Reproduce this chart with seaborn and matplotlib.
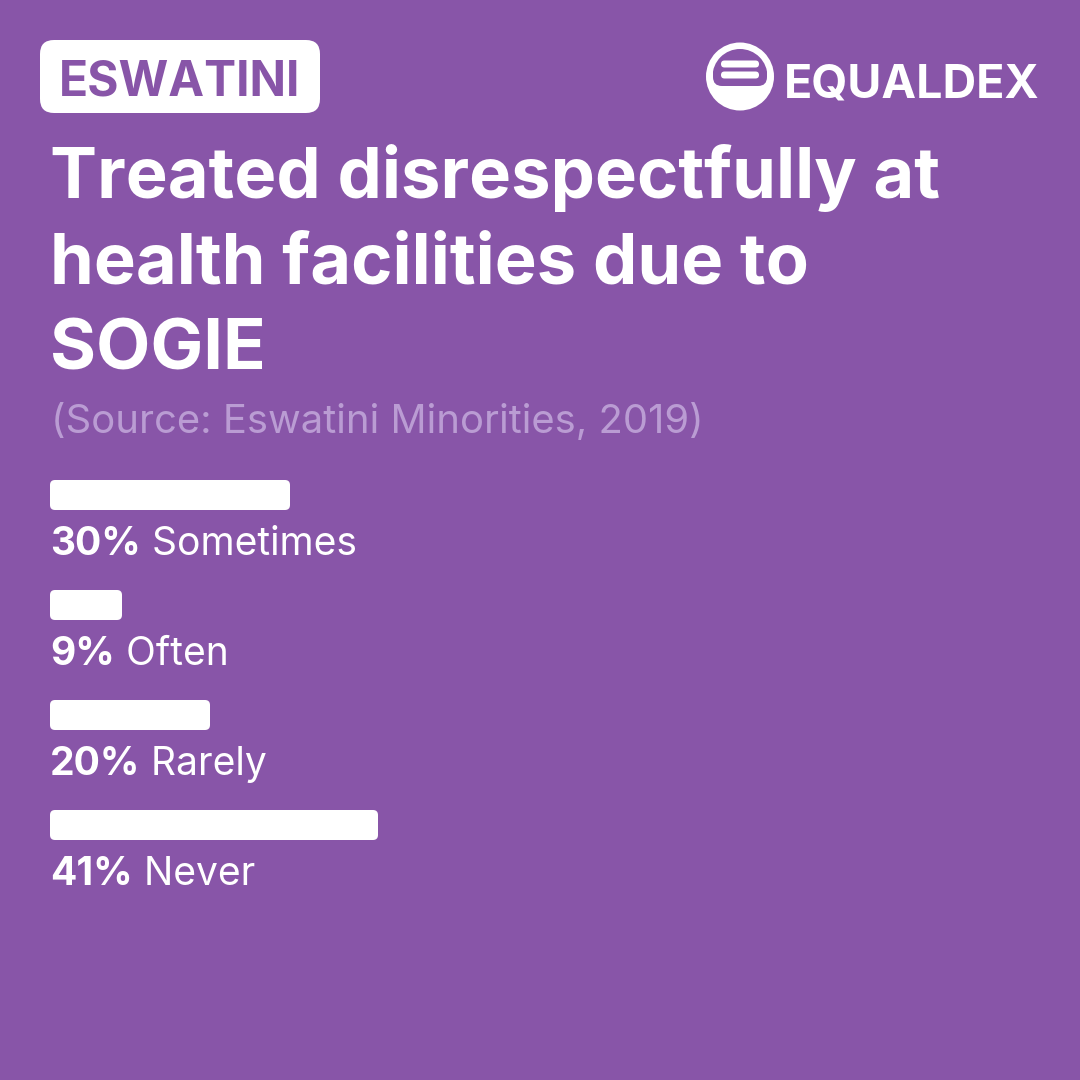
import matplotlib
matplotlib.use("Agg")
import matplotlib.pyplot as plt
from matplotlib.patches import FancyBboxPatch, Circle
import seaborn as sns
import pandas as pd

# ---- data ----
categories = ["Sometimes", "Often", "Rarely", "Never"]
percentages = [30, 9, 20, 41]
country = "ESWATINI"
title_lines = ["Treated disrespectfully at", "health facilities due to", "SOGIE"]
source = "(Source: Eswatini Minorities, 2019)"
brand = "EQUALDEX"

BG = "#8855A8"
WHITE = "#FFFFFF"
SOFT = "#BA9CD3"
FONT = ["Inter", "DejaVu Sans"]

sns.set_theme(style="white")
plt.rcParams["font.family"] = FONT

W = H = 1080
fig = plt.figure(figsize=(10.8, 10.8), dpi=100, facecolor=BG)

# overlay in pixel coordinates for header elements
deco = fig.add_axes([0, 0, 1, 1])
deco.set_xlim(0, W)
deco.set_ylim(H, 0)
deco.axis("off")
deco.set_facecolor("none")

def pt(px):
    return px * 72 / 100

# country badge
badge = FancyBboxPatch((40, 40), 280, 73, boxstyle="round,pad=0,rounding_size=14",
                       fc=WHITE, ec="none")
deco.add_patch(badge)
deco.text(180, 95, country, ha="center", va="baseline", color=BG,
          fontsize=pt(48), fontweight="bold")

# brand logo
cx, cy = 740, 76.5
deco.add_patch(Circle((cx, cy), 34, fc=WHITE, ec="none"))
inner = FancyBboxPatch((713, 30), 54, 56, boxstyle="round,pad=0,rounding_size=9",
                       fc=BG, ec="none")
deco.add_patch(inner)
clip = Circle((cx, cy), 27.5, transform=deco.transData)
inner.set_clip_path(clip)
for yc in (64, 75):
    deco.add_patch(FancyBboxPatch((721, yc - 3.5), 38, 7,
                                  boxstyle="round,pad=0,rounding_size=3.5",
                                  fc=WHITE, ec="none"))
deco.text(784, 98, brand, ha="left", va="baseline", color=WHITE,
          fontsize=pt(46.5), fontweight="bold")

# title
for line, base in zip(title_lines, [198, 284, 370]):
    deco.text(50, base, line, ha="left", va="baseline", color=WHITE,
              fontsize=pt(70.5), fontweight="bold")

deco.text(51, 433, source, ha="left", va="baseline", color=SOFT, fontsize=pt(40))

# ---- bar chart ----
ax = fig.add_axes([50 / W, (H - 880) / H, 800 / W, 440 / H])
ax.set_facecolor("none")
df = pd.DataFrame({"category": categories, "pct": percentages})
sns.barplot(data=df, x="pct", y="category", orient="h", color=WHITE,
            width=30 / 110, ax=ax, saturation=1)
ax.set_xlim(0, 100)
ax.set_ylim(3.5, -0.5)
ax.axis("off")

# swap the square bars for rounded ones
x_px = 8.0      # pixels per x unit
y_px = 110.0    # pixels per y unit
r = 5.0
for bar in list(ax.patches):
    x0, y0 = bar.get_x(), bar.get_y()
    w, h = bar.get_width(), bar.get_height()
    rb = FancyBboxPatch((x0, y0), w, h,
                        boxstyle=f"round,pad=0,rounding_size={r / x_px}",
                        mutation_aspect=x_px / y_px,
                        fc=WHITE, ec="none")
    bar.remove()
    ax.add_patch(rb)

for i, (cat, p) in enumerate(zip(categories, percentages)):
    t = ax.text(0, i + 60 / 110, f"{p}%", ha="left", va="baseline",
                color=WHITE, fontsize=pt(39), fontweight="bold")
    ax.annotate(" " + cat, xy=(1, 0), xycoords=t, ha="left", va="bottom",
                color=WHITE, fontsize=pt(39))

fig.savefig("out.png", dpi=100, facecolor=BG)
